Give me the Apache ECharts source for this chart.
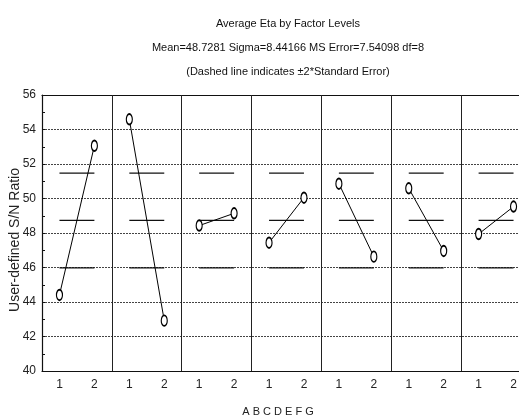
<!DOCTYPE html>
<html>
<head>
<meta charset="utf-8">
<script src="https://cdn.jsdelivr.net/npm/echarts@6/dist/echarts.min.js"></script>
<style>
  html, body { margin: 0; padding: 0; background: #fff; overflow: hidden; width: 519px; height: 419px; }
  #chart { width: 560px; height: 419px; }
</style>
</head>
<body>
<div id="chart"></div>
<script>
// ---- data ----
const titleLines = [
  'Average Eta by Factor Levels',
  'Mean=48.7281 Sigma=8.44166 MS Error=7.54098 df=8',
  '(Dashed line indicates \u00b12*Standard Error)'
];
const factors = ['A', 'B', 'C', 'D', 'E', 'F', 'G'];
const levelLabels = ['1', '2'];
const level1 = [44.41, 54.59, 48.43, 47.44, 50.86, 50.59, 47.94];
const level2 = [53.06, 42.92, 49.14, 50.05, 46.63, 46.96, 49.53];
const refLevels = [45.98, 48.73, 51.47]; // mean - 2SE, mean, mean + 2SE
const yMin = 40, yMax = 56, yStep = 2;
const yName = 'User-defined S/N Ratio';

// ---- build ----
const FONT = 'Liberation Sans, Arial, sans-serif';
const nLev = levelLabels.length;
const catData = [];
factors.forEach(() => levelLabels.forEach(l => catData.push(l)));

const ellipse = 'path://M5,0C7.76,0,10,2.24,10,5C10,7.76,7.76,10,5,10C2.24,10,0,7.76,0,5C0,2.24,2.24,0,5,0Z';

const series = [];
factors.forEach((f, i) => {
  const x1 = i * nLev + 1, x2 = i * nLev + 2;
  refLevels.forEach(r => {
    series.push({
      type: 'line', xAxisIndex: 0, yAxisIndex: 0, silent: true,
      data: [[x1, r], [x2, r]], symbol: 'none',
      lineStyle: { color: '#111', width: 1.2 }, z: 2
    });
  });
  series.push({
    name: f, type: 'line', xAxisIndex: 0, yAxisIndex: 0,
    data: [[x1, level1[i]], [x2, level2[i]]],
    symbol: ellipse, symbolSize: [6, 10.5],
    itemStyle: { color: '#fff', borderColor: '#000', borderWidth: 1.5 },
    lineStyle: { color: '#000', width: 1 }, z: 5
  });
});
// panel separators
const seps = [];
for (let i = 1; i < factors.length; i++) seps.push({ xAxis: i * nLev + 0.5 });
series.push({
  type: 'line', xAxisIndex: 0, yAxisIndex: 0, data: [], silent: true,
  markLine: { symbol: 'none', silent: true, label: { show: false },
    lineStyle: { color: '#222', width: 1, type: 'solid' }, data: seps, animation: false }
});

const chart = echarts.init(document.getElementById('chart'), null, { renderer: 'canvas' });
chart.setOption({
  animation: false,
  backgroundColor: '#fff',
  title: {
    text: titleLines.join('\n'),
    left: 283, top: 7, textAlign: 'center',
    textStyle: { fontFamily: FONT, fontSize: 11, fontWeight: 'normal', color: '#111', lineHeight: 24 }
  },
  graphic: [
    { type: 'text', x: 15, y: 240, rotation: Math.PI / 2,
      style: { text: yName, fontFamily: FONT, fontSize: 14, fill: '#222', textAlign: 'center', textVerticalAlign: 'middle' } },
    { type: 'text', x: 278, y: 412,
      style: { text: factors.join(' '), fontFamily: FONT, fontSize: 11, fill: '#222', textAlign: 'center', textVerticalAlign: 'middle' } }
  ],
  grid: { left: 42, top: 95, width: 489, height: 276, containLabel: false },
  xAxis: [
    { type: 'value', min: 0.5, max: nLev * factors.length + 0.5, interval: 0.5, show: false, position: 'bottom' },
    { type: 'category', data: catData, boundaryGap: true, position: 'bottom',
      axisLine: { onZero: false, lineStyle: { color: '#111', width: 1.2 } },
      axisTick: { inside: true, alignWithLabel: true, length: 3, lineStyle: { color: '#111' } },
      axisLabel: { margin: 8, fontFamily: FONT, fontSize: 12, color: '#222', interval: 0 },
      splitLine: { show: false } },
    { type: 'category', data: catData, boundaryGap: true, position: 'top',
      axisLine: { onZero: false, lineStyle: { color: '#111', width: 1.2 } },
      axisTick: { inside: true, alignWithLabel: true, length: 3, lineStyle: { color: '#111' } },
      axisLabel: { show: false }, splitLine: { show: false } }
  ],
  yAxis: {
    type: 'value', min: yMin, max: yMax, interval: yStep,
    axisLine: { show: true, onZero: false, lineStyle: { color: '#111', width: 1.2 } },
    axisTick: { show: true, inside: true, length: 3, lineStyle: { color: '#111' } },
    minorTick: { show: true, splitNumber: 2, length: 3, lineStyle: { color: '#111' } },
    axisLabel: { margin: 6, fontFamily: FONT, fontSize: 12, color: '#222' },
    splitLine: { show: true, lineStyle: { color: '#444', width: 1, type: [2, 1] } }
  },
  series: series
});
</script>
</body>
</html>
